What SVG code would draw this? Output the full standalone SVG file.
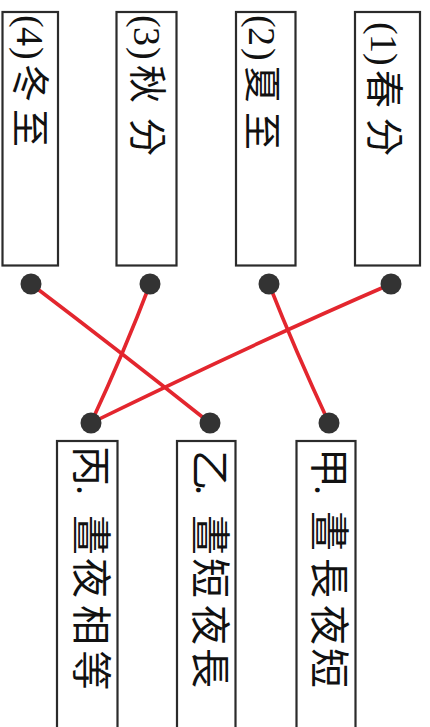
<svg xmlns="http://www.w3.org/2000/svg" width="430" height="727" viewBox="0 0 430 727">
<style>
.box{fill:#fff;stroke:#2b2b2b;stroke-width:2.2}
.dot{fill:#333}
.lbl{font-family:"Liberation Serif","Noto Sans CJK TC",serif;fill:#111;dominant-baseline:central}
.top{font-size:38px}
.bot{font-size:40px}
.wire{fill:none;stroke:#e3262e;stroke-width:3.6;stroke-linecap:round}
</style>
<rect width="430" height="727" fill="#fff"/>
<g id="connectors">
<path class="wire" d="M31,284 Q118,350 210,423"/>
<path class="wire" d="M150,284 Q125,350 91,423"/>
<path class="wire" d="M269,284 Q295,350 329,423"/>
<path class="wire" d="M391,284 Q250,345 91,423"/>
</g>
<g id="n4">
<rect class="box" x="2.5" y="12" width="55.5" height="253.5"/>
<text class="lbl top" transform="translate(30,15) rotate(90)" x="0 12 32 49 94" y="0">(4)冬至</text>
<circle class="dot" cx="31" cy="284" r="10.5"/>
</g>
<g id="n3">
<rect class="box" x="116.5" y="12" width="60" height="253.5"/>
<text class="lbl top" transform="translate(147,15) rotate(90)" x="0 12 32 50 103" y="0">(3)秋分</text>
<circle class="dot" cx="150" cy="284" r="10.5"/>
</g>
<g id="n2">
<rect class="box" x="236" y="12" width="59.5" height="253.5"/>
<text class="lbl top" transform="translate(262,15) rotate(90)" x="0 12 33 50 97" y="0">(2)夏至</text>
<circle class="dot" cx="269" cy="284" r="10.5"/>
</g>
<g id="n1">
<rect class="box" x="355" y="12" width="65" height="253.5"/>
<text class="lbl top" transform="translate(384,22) rotate(90)" x="0 12 31 48 96" y="0">(1)春分</text>
<circle class="dot" cx="391" cy="284" r="10.5"/>
</g>
<g id="nc">
<rect class="box" x="57" y="441" width="60.5" height="300"/>
<text class="lbl bot" transform="translate(90,446) rotate(90)" x="0 39 69 112 159 204" y="0">丙.晝夜相等</text>
<circle class="dot" cx="91" cy="423" r="10.5"/>
</g>
<g id="nb">
<rect class="box" x="177" y="441" width="58.5" height="300"/>
<text class="lbl bot" transform="translate(209,450) rotate(90)" x="0 35 65 108 155 198" y="0">乙.晝短夜長</text>
<circle class="dot" cx="210" cy="423" r="10.5"/>
</g>
<g id="na">
<rect class="box" x="296.5" y="441" width="59" height="300"/>
<text class="lbl bot" transform="translate(328,448) rotate(90)" x="0 37 63 110 157 200" y="0">甲.晝長夜短</text>
<circle class="dot" cx="329" cy="423" r="10.5"/>
</g>
</svg>
